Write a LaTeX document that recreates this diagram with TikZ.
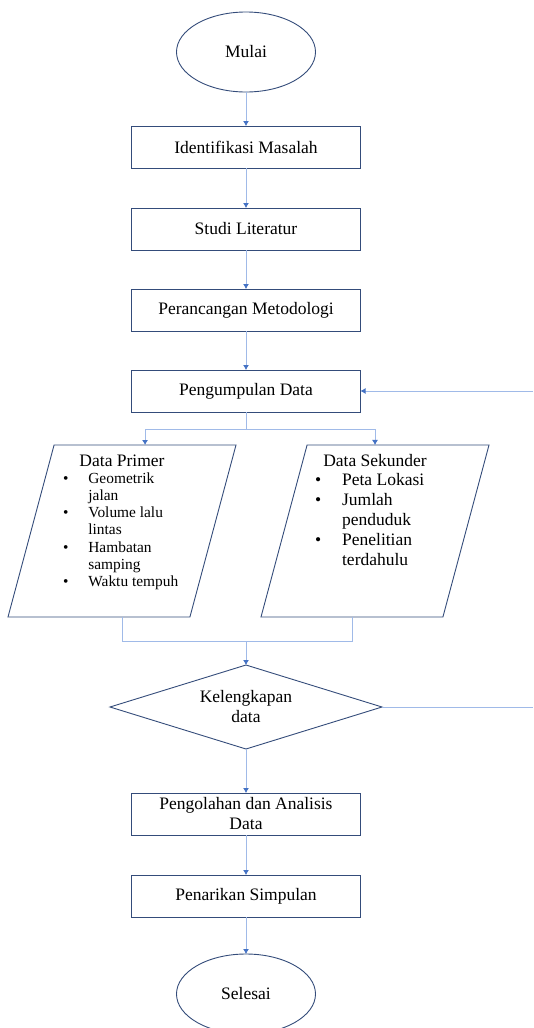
\documentclass[tikz,border=0pt]{standalone}
\usepackage{fontspec}
\setmainfont{Liberation Serif}
\usetikzlibrary{shapes.geometric,arrows.meta}

\definecolor{boxline}{RGB}{52,76,122}
\definecolor{flowline}{RGB}{160,186,232}
\definecolor{flowtip}{RGB}{68,114,196}

\begin{document}
\begin{tikzpicture}[x=1pt, y=-1pt,
    every node/.style={font=\fontsize{17.5}{20}\selectfont, inner sep=0pt, outer sep=0pt},
    terminal/.style={draw=boxline, line width=0.9pt, ellipse, minimum width=139pt, minimum height=80pt},
    process/.style={draw=boxline, line width=0.9pt, rectangle, minimum width=229pt, minimum height=42pt, align=center},
    inputbox/.style={draw=boxline, line width=0.9pt, trapezium, trapezium left angle=75, trapezium right angle=105,
        trapezium stretches body=true, minimum width=228pt},
    decision/.style={draw=boxline, line width=0.9pt, diamond, aspect=3.2, minimum width=272pt, minimum height=84pt, align=center},
    flow/.style={draw=flowline, line width=0.9pt},
    flowarrow/.style={flow, -{Latex[length=5pt, width=6pt, color=flowtip]}}
]
    \useasboundingbox (0,0) rectangle (533,1028);

    % Main column
    \node[terminal] (mulai) at (246,52) {Mulai};
    \node[process] (ident) at (246,147) {Identifikasi Masalah};
    \node[process] (studi) at (246,229) {Studi Literatur};
    \node[process] (ranc) at (246,310) {Perancangan Metodologi};
    \node[process] (kumpul) at (246,391) {Pengumpulan Data};

    % Data inputs (parallelograms, 172pt high)
    \node[inputbox] (primer) at (122,531) {\rule{0pt}{172pt}};
    \node[inputbox] (sekunder) at (375,531) {\rule{0pt}{172pt}};
    \node (primtitle) at (122,461) {Data Primer};
    \node[anchor=base west, font=\fontsize{15.4}{17.3}\selectfont] (primlist) at (63,483) {%
        \begin{tabular}[t]{@{}l@{\hspace{20pt}}l@{}}
        \textbullet & Geometrik\\
                    & jalan\\
        \textbullet & Volume lalu\\
                    & lintas\\
        \textbullet & Hambatan\\
                    & samping\\
        \textbullet & Waktu tempuh
        \end{tabular}};
    \node (sektitle) at (375,461) {Data Sekunder};
    \node[anchor=base west] (seklist) at (315,485) {%
        \begin{tabular}[t]{@{}l@{\hspace{21pt}}l@{}}
        \textbullet & Peta Lokasi\\
        \textbullet & Jumlah\\
                    & penduduk\\
        \textbullet & Penelitian\\
                    & terdahulu
        \end{tabular}};

    % Check and end
    \node[decision] (cek) at (246,707) {Kelengkapan\\data};
    \node[process] (olah) at (246,814) {Pengolahan dan Analisis\\Data};
    \node[process] (tarik) at (246,896) {Penarikan Simpulan};
    \node[terminal] (selesai) at (246,994) {Selesai};

    % Free ends
    \coordinate (loopin) at (533,391);
    \coordinate (loopout) at (533,707);
    \coordinate (split) at (246,429);
    \coordinate (merge) at (246,641);

    % Connectors
    \draw[flowarrow] (mulai) -- (ident);
    \draw[flowarrow] (ident) -- (studi);
    \draw[flowarrow] (studi) -- (ranc);
    \draw[flowarrow] (ranc) -- (kumpul);
    \draw[flowarrow] (loopin) -- (kumpul);
    \draw[flow] (kumpul.south) -- (split);
    \draw[flowarrow] (split) -| (primer.top side);
    \draw[flowarrow] (split) -| (sekunder.north);
    \draw[flow] (primer.south) |- (merge);
    \draw[flow] (sekunder.bottom side) |- (merge);
    \draw[flowarrow] (merge) -- (cek.north);
    \draw[flow] (cek.east) -- (loopout);
    \draw[flowarrow] (cek) -- (olah);
    \draw[flowarrow] (olah) -- (tarik);
    \draw[flowarrow] (tarik) -- (selesai);
\end{tikzpicture}
\end{document}
